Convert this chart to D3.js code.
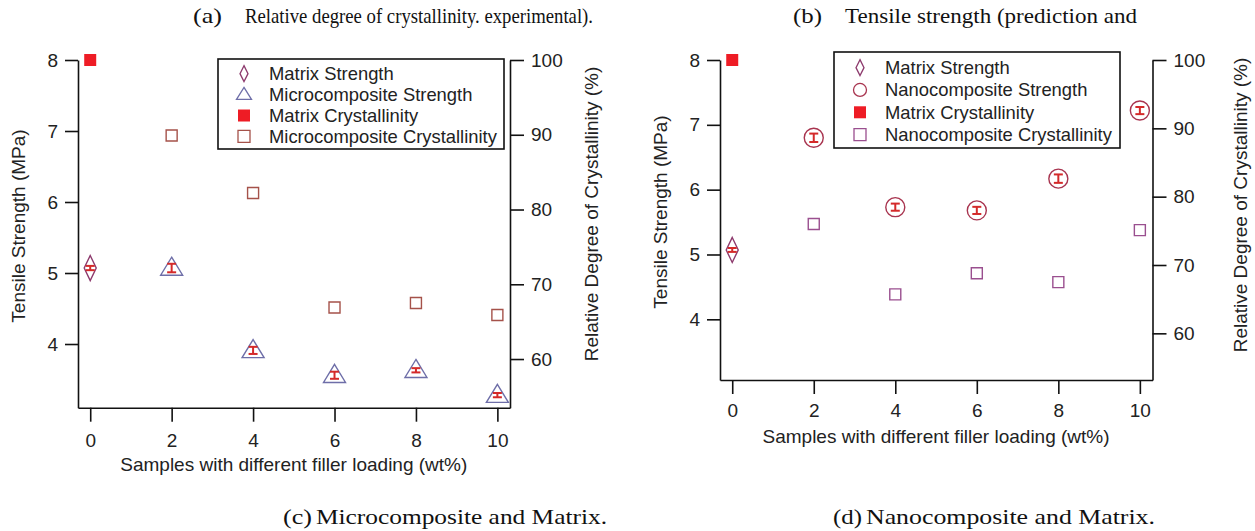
<!DOCTYPE html>
<html>
<head>
<meta charset="utf-8">
<script src="https://cdn.jsdelivr.net/npm/d3@7"></script>
<style>
  body { margin: 0; background: #fff; }
  svg { display: block; }
  .axis text { font-family: "Liberation Sans", Arial, sans-serif; font-size: 19px; fill: #222; }
  .axis path, .axis line { stroke: #111; stroke-width: 1.6; }
  .title { font-family: "Liberation Sans", Arial, sans-serif; font-size: 19px; fill: #222; }
  .legend text { font-family: "Liberation Sans", Arial, sans-serif; font-size: 18.4px; fill: #222; }
  .cap { font-family: "Liberation Serif", "DejaVu Serif", serif; font-size: 22px; fill: #111; }
</style>
</head>
<body>
<svg id="chart" width="1255" height="531"></svg>
<script>
// filler loading (wt%)
const loadings = [2, 4, 6, 8, 10];
const xTicks = [0, 2, 4, 6, 8, 10];

// matrix (0 wt%)
const matrixStrength = 5.07;
const matrixStrengthErr = 0.03;
const matrixCryst = 100;

// microcomposite
const microStrength = [5.07, 3.91, 3.56, 3.63, 3.28];
const microStrengthErr = [0.06, 0.05, 0.05, 0.03, 0.03];
const microCryst = [89.9, 82.2, 66.9, 67.5, 65.9];

// nanocomposite
const nanoStrength = [6.80, 5.73, 5.68, 6.17, 7.22];
const nanoStrengthErr = [0.065, 0.055, 0.055, 0.065, 0.055];
const nanoCryst = [76.0, 65.7, 68.8, 67.5, 75.1];

const strengthTicks = [4, 5, 6, 7, 8];
const crystTicks = [60, 70, 80, 90, 100];

const svg = d3.select("#chart");

// marker shapes (relative to centre)
function diamond(w, h) { return `M0,${-h/2}L${w/2},0L0,${h/2}L${-w/2},0Z`; }
function triangle(w, h) { return `M0,${-h*0.6}L${w/2},${h*0.4}L${-w/2},${h*0.4}Z`; }
function square(s) { return `M${-s/2},${-s/2}h${s}v${s}h${-s}Z`; }
function circle(r) { return `M${r},0A${r},${r} 0 1,1 ${-r},0A${r},${r} 0 1,1 ${r},0Z`; }

const colDiamond = "#8d3a6d", colTri = "#6e6ea8", colMicroSq = "#a5524a",
      colNanoSq = "#9a4f8f", colCircle = "#a8344f", colErr = "#d42a2a", colMatrix = "#ee1c25";

function panel(cfg) {
  const g = svg.append("g");
  const x = d3.scaleLinear().domain([-0.3, 10.31]).range([cfg.left, cfg.right]);
  const yL = d3.scaleLinear().domain([cfg.yMin, 8]).range([cfg.bottom, 60]);
  const yR = d3.scaleLinear().domain([cfg.rMin, 100]).range([cfg.bottom, 60]);
  const fmt = d3.format("d");

  g.append("g").attr("class", "axis").attr("transform", `translate(0,${cfg.bottom})`)
    .call(d3.axisBottom(x).tickValues(xTicks).tickFormat(fmt).tickSize(14).tickSizeOuter(0).tickPadding(cfg.xPad));
  g.append("g").attr("class", "axis").attr("transform", `translate(${cfg.left},0)`)
    .call(d3.axisLeft(yL).tickValues(strengthTicks).tickFormat(fmt).tickSize(13).tickSizeOuter(0).tickPadding(7));
  g.append("g").attr("class", "axis").attr("transform", `translate(${cfg.right},0)`)
    .call(d3.axisRight(yR).tickValues(crystTicks).tickFormat(fmt).tickSize(14).tickSizeOuter(0).tickPadding(7));

  g.append("text").attr("class", "title").attr("text-anchor", "middle")
    .attr("x", (x(0) + x(10)) / 2).attr("y", cfg.bottom + 63)
    .text("Samples with different filler loading (wt%)");
  g.append("text").attr("class", "title").attr("text-anchor", "middle")
    .attr("transform", `translate(${cfg.left - 53},${cfg.lTitleY}) rotate(-90)`)
    .text("Tensile Strength (MPa)");
  g.append("text").attr("class", "title").attr("text-anchor", "middle")
    .attr("transform", `translate(${cfg.right + cfg.rTitleX},${cfg.rTitleY}) rotate(-90)`)
    .text("Relative Degree of Crystallinity (%)");

  // crystallinity squares
  g.selectAll(".csq").data(loadings).join("path")
    .attr("transform", (d, i) => `translate(${x(d)},${yR(cfg.cryst[i])})`)
    .attr("d", square(11)).attr("fill", "none").attr("stroke", cfg.sqColor).attr("stroke-width", 1.4);
  g.append("path").attr("transform", `translate(${x(0)},${yR(matrixCryst)})`)
    .attr("d", square(12)).attr("fill", colMatrix);

  // strength markers
  g.selectAll(".smk").data(loadings).join("path")
    .attr("transform", (d, i) => `translate(${x(d)},${yL(cfg.strength[i])})`)
    .attr("d", cfg.shape).attr("fill", "none").attr("stroke", cfg.shapeColor).attr("stroke-width", 1.4);
  g.append("path").attr("transform", `translate(${x(0)},${yL(matrixStrength)})`)
    .attr("d", diamond(12, 25)).attr("fill", "none").attr("stroke", colDiamond).attr("stroke-width", 1.4);

  // error bars
  const errs = [[0, matrixStrength, matrixStrengthErr]]
    .concat(loadings.map((d, i) => [d, cfg.strength[i], cfg.err[i]]));
  const eb = g.selectAll(".eb").data(errs).join("g").attr("stroke", colErr).attr("stroke-width", 2);
  eb.append("line").attr("x1", d => x(d[0])).attr("x2", d => x(d[0]))
    .attr("y1", d => yL(d[1] - d[2])).attr("y2", d => yL(d[1] + d[2]));
  eb.append("line").attr("x1", d => x(d[0]) - 4.5).attr("x2", d => x(d[0]) + 4.5)
    .attr("y1", d => yL(d[1] - d[2])).attr("y2", d => yL(d[1] - d[2]));
  eb.append("line").attr("x1", d => x(d[0]) - 4.5).attr("x2", d => x(d[0]) + 4.5)
    .attr("y1", d => yL(d[1] + d[2])).attr("y2", d => yL(d[1] + d[2]));

  // legend
  const lg = g.append("g").attr("class", "legend");
  lg.append("rect").attr("x", cfg.lg[0]).attr("y", cfg.lg[1]).attr("width", cfg.lg[2]).attr("height", cfg.lg[3])
    .attr("fill", "#fff").attr("stroke", "#111").attr("stroke-width", 1.6);
  const step = cfg.lg[3] / 4.3;
  cfg.legend.forEach((e, i) => {
    const cy = cfg.lg[1] + step * (i + 0.7);
    lg.append("path").attr("transform", `translate(${cfg.lg[0] + 26},${cy})`)
      .attr("d", e.d).attr("fill", e.fill || "none").attr("stroke", e.fill ? "none" : e.color).attr("stroke-width", 1.3);
    lg.append("text").attr("x", cfg.lg[0] + 51).attr("y", cy).attr("dy", "0.35em").text(e.label);
  });
}

panel({
  left: 78, right: 510, bottom: 407.7, yMin: 3.103, rMin: 53.49, xPad: 12,
  lTitleY: 226, rTitleY: 214, rTitleX: 88,
  strength: microStrength, err: microStrengthErr, cryst: microCryst,
  shape: triangle(22, 18), shapeColor: colTri, sqColor: colMicroSq,
  lg: [218, 59, 286, 90],
  legend: [
    { d: diamond(8, 16), color: colDiamond, label: "Matrix Strength" },
    { d: triangle(15, 12), color: colTri, label: "Microcomposite Strength" },
    { d: square(12), fill: colMatrix, label: "Matrix Crystallinity" },
    { d: square(12), color: colMicroSq, label: "Microcomposite Crystallinity" }
  ]
});

panel({
  left: 720, right: 1152.5, bottom: 380, yMin: 3.064, rMin: 53.17, xPad: 10,
  lTitleY: 212, rTitleY: 205, rTitleX: 94,
  strength: nanoStrength, err: nanoStrengthErr, cryst: nanoCryst,
  shape: circle(9.5), shapeColor: colCircle, sqColor: colNanoSq,
  lg: [834, 52, 286, 96],
  legend: [
    { d: diamond(8, 16), color: colDiamond, label: "Matrix Strength" },
    { d: circle(6.5), color: colCircle, label: "Nanocomposite Strength" },
    { d: square(12), fill: colMatrix, label: "Matrix Crystallinity" },
    { d: square(12), color: colNanoSq, label: "Nanocomposite Crystallinity" }
  ]
});

// captions
function caption(tag, tx, text, x0, x1, y) {
  svg.append("text").attr("class", "cap").attr("x", x0).attr("y", y)
    .attr("textLength", 29).attr("lengthAdjust", "spacingAndGlyphs").text(tag);
  svg.append("text").attr("class", "cap").attr("x", tx).attr("y", y)
    .attr("textLength", x1 - tx).attr("lengthAdjust", "spacingAndGlyphs").text(text);
}
caption("(a)", 245, "Relative degree of crystallinity. experimental).", 193, 593, 23);
caption("(b)", 845, "Tensile strength (prediction and", 793, 1137, 23);
caption("(c)", 316, "Microcomposite and Matrix.", 283, 607, 524);
caption("(d)", 866, "Nanocomposite and Matrix.", 833, 1155, 524);
</script>
</body>
</html>
